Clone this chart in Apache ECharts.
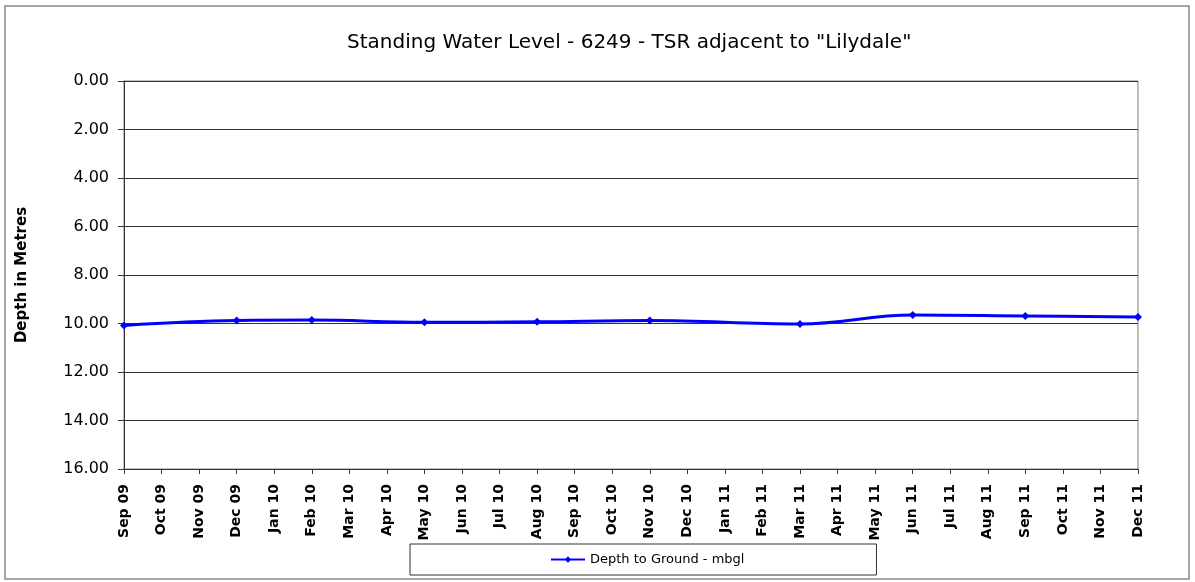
<!DOCTYPE html>
<html>
<head>
<meta charset="utf-8">
<script src="https://cdn.jsdelivr.net/npm/echarts@6/dist/echarts.min.js"></script>
<style>
  html, body { margin: 0; padding: 0; background: #fff; }
</style>
</head>
<body>
<div id="chart" style="width:1195px;height:582px"></div>
<script>
  // months on the x axis
  const months = ['Sep 09', 'Oct 09', 'Nov 09', 'Dec 09', 'Jan 10', 'Feb 10', 'Mar 10', 'Apr 10',
    'May 10', 'Jun 10', 'Jul 10', 'Aug 10', 'Sep 10', 'Oct 10', 'Nov 10', 'Dec 10',
    'Jan 11', 'Feb 11', 'Mar 11', 'Apr 11', 'May 11', 'Jun 11', 'Jul 11', 'Aug 11',
    'Sep 11', 'Oct 11', 'Nov 11', 'Dec 11'];
  // depth to ground (mbgl), null = no reading that month
  const depth = [10.08, null, null, 9.88, null, 9.86, null, null,
    9.95, null, null, 9.93, null, null, 9.88, null,
    null, null, 10.02, null, null, 9.65, null, null,
    9.69, null, null, 9.73];
  const yTicks = [0, 2, 4, 6, 8, 10, 12, 14, 16];

  const myChart = echarts.init(document.getElementById('chart'));
  const fontFamily = 'DejaVu Sans, Liberation Sans, sans-serif';

  const option = {
    animation: false,
    textStyle: { fontFamily: fontFamily },
    title: {
      text: 'Standing Water Level - 6249 - TSR adjacent to "Lilydale"',
      left: 342,
      top: 28,
      textStyle: { fontSize: 20, fontWeight: 'normal', color: '#000', fontFamily: fontFamily }
    },
    graphic: [{
      type: 'rect',
      shape: { x: 5, y: 6, width: 1184, height: 573 },
      style: { fill: 'none', stroke: '#888', lineWidth: 1.5 },
      silent: true
    }],
    grid: {
      left: 124,
      right: 57,
      top: 81,
      bottom: 113,
      show: true,
      borderColor: '#808080',
      borderWidth: 1
    },
    legend: {
      left: 410,
      top: 544,
      padding: [9, 132, 9, 140],
      borderColor: '#333',
      borderWidth: 1,
      itemWidth: 34,
      itemHeight: 8,
      itemGap: 4,
      textStyle: { fontSize: 13, color: '#000', fontFamily: fontFamily },
      data: ['Depth to Ground - mbgl']
    },
    xAxis: {
      type: 'category',
      data: months,
      boundaryGap: false,
      axisLine: { onZero: false, lineStyle: { color: '#333', width: 1 } },
      axisTick: { show: true, alignWithLabel: true, length: 5, lineStyle: { color: '#333' } },
      axisLabel: {
        rotate: 90,
        interval: 0,
        fontSize: 14,
        fontWeight: 'bold',
        color: '#000',
        margin: 15
      },
      splitLine: { show: false }
    },
    yAxis: {
      type: 'value',
      inverse: true,
      min: yTicks[0],
      max: yTicks[yTicks.length - 1],
      interval: 2,
      name: 'Depth in Metres',
      nameLocation: 'middle',
      nameGap: 94,
      nameRotate: 90,
      nameTextStyle: { fontSize: 15, fontWeight: 'bold', color: '#000' },
      axisLine: { show: true, onZero: false, lineStyle: { color: '#333', width: 1 } },
      axisTick: { show: true, inside: false, length: 6, lineStyle: { color: '#333' } },
      axisLabel: {
        fontSize: 16,
        color: '#000',
        margin: 15,
        formatter: v => v.toFixed(2)
      },
      splitLine: { show: true, lineStyle: { color: '#333', width: 1 } }
    },
    series: [{
      name: 'Depth to Ground - mbgl',
      type: 'line',
      data: depth,
      connectNulls: true,
      smooth: 0.4,
      symbol: 'diamond',
      symbolSize: 8,
      showSymbol: true,
      lineStyle: { color: '#0000FF', width: 3 },
      itemStyle: { color: '#0000FF' }
    }]
  };
  myChart.setOption(option);
</script>
</body>
</html>
